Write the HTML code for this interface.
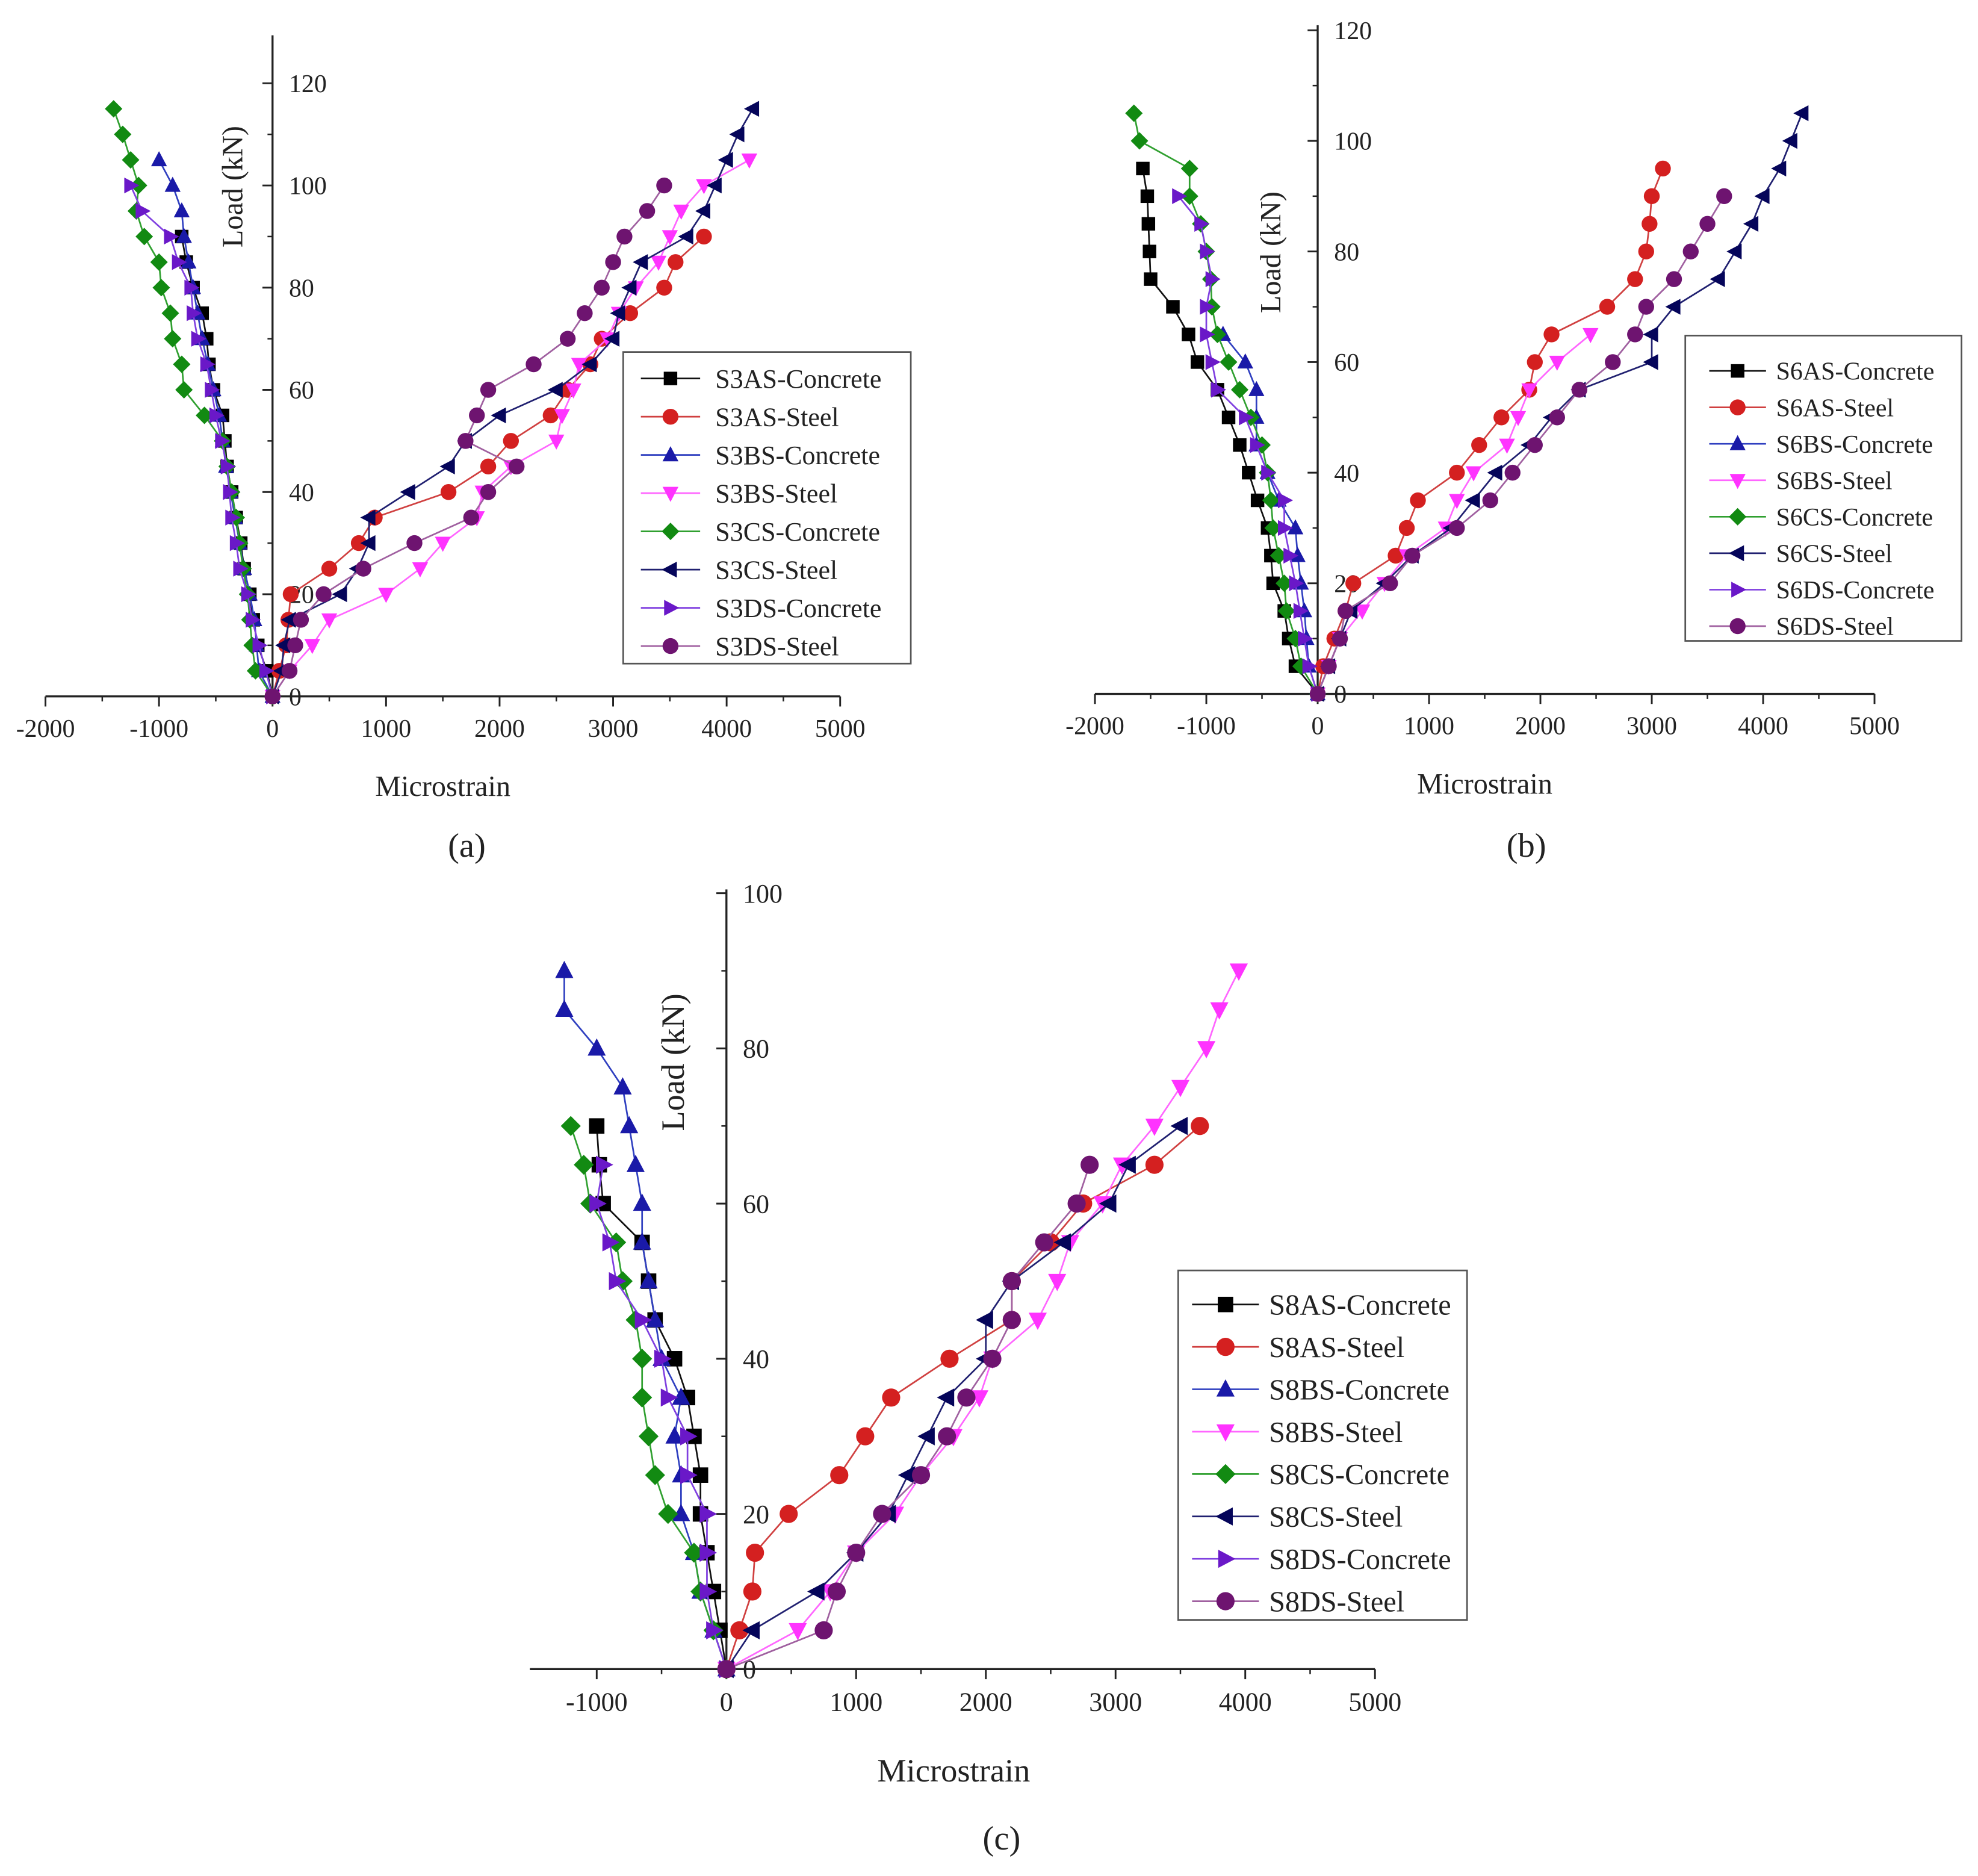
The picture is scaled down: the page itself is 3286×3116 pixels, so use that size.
<!DOCTYPE html>
<html><head><meta charset="utf-8"><style>
html,body{margin:0;padding:0;background:#fff;}
svg{display:block;}
text{font-family:"Liberation Serif",serif;fill:#222;}
</style></head><body>
<svg id="fig" width="3286" height="3116" viewBox="0 0 1568 1487" xmlns="http://www.w3.org/2000/svg">
<g id="pa"></g>
<g id="pb"></g>
<g id="pc"></g>
<text x="370" y="679" font-size="27" text-anchor="middle">(a)</text>
<text x="1210" y="679" font-size="27" text-anchor="middle">(b)</text>
<text x="794" y="1466" font-size="27" text-anchor="middle">(c)</text>
</svg>
<script>
const loads = [0,5,10,15,20,25,30,35,40,45,50,55,60,65,70,75,80,85,90,95,100,105,110,115];
const xTicks = [-2000,-1000,0,1000,2000,3000,4000,5000];
const xTicksC = [-1000,0,1000,2000,3000,4000,5000];
const yTicksA = [0,20,40,60,80,100,120];
const yTicksC = [0,20,40,60,80,100];
// panel a
const a_AS_Concrete = [0,-50,-130,-170,-200,-250,-280,-320,-360,-400,-420,-440,-520,-560,-580,-620,-700,-760,-800];
const a_AS_Steel = [0,60,120,140,160,500,760,900,1550,1900,2100,2450,2600,2800,2900,3150,3450,3550,3800];
const a_BS_Concrete = [0,-120,-140,-160,-200,-250,-290,-330,-370,-410,-440,-470,-520,-570,-620,-660,-700,-740,-780,-800,-880,-1000];
const a_BS_Steel = [0,150,350,500,1000,1300,1500,1800,1850,2100,2500,2550,2650,2700,2950,3050,3200,3400,3500,3600,3800,4200];
const a_CS_Concrete = [0,-150,-180,-200,-220,-260,-290,-320,-360,-400,-440,-600,-780,-800,-880,-900,-980,-1000,-1130,-1200,-1180,-1250,-1320,-1400];
const a_CS_Steel = [0,80,100,150,600,750,850,850,1200,1550,1700,2000,2500,2800,3000,3050,3150,3250,3650,3800,3900,4000,4100,4230];
const a_DS_Concrete = [0,-60,-120,-180,-220,-290,-320,-360,-380,-400,-450,-500,-540,-580,-660,-700,-720,-830,-900,-1150,-1250];
const a_DS_Steel = [0,150,200,250,450,800,1250,1750,1900,2150,1700,1800,1900,2300,2600,2750,2900,3000,3100,3300,3450];
// panel b
const b_AS_Concrete = [0,-200,-260,-300,-400,-420,-450,-540,-620,-700,-800,-900,-1080,-1160,-1300,-1500,-1510,-1520,-1530,-1570];
const b_AS_Steel = [0,50,150,250,320,700,800,900,1250,1450,1650,1900,1950,2100,2600,2850,2950,2980,3000,3100];
const b_BS_Concrete = [0,-80,-100,-120,-150,-180,-200,-350,-450,-550,-550,-550,-650,-850];
const b_BS_Steel = [0,100,200,400,600,800,1150,1250,1400,1700,1800,1900,2150,2450];
const b_CS_Concrete = [0,-150,-200,-280,-300,-350,-400,-420,-450,-500,-600,-700,-800,-900,-950,-960,-1000,-1050,-1150,-1150,-1600,-1650];
const b_CS_Steel = [0,100,200,300,600,850,1200,1400,1600,1900,2100,2350,3000,3000,3200,3600,3750,3900,4000,4150,4250,4350];
const b_DS_Concrete = [0,-80,-120,-160,-200,-250,-300,-300,-450,-550,-650,-900,-950,-1000,-1000,-950,-1000,-1050,-1250];
const b_DS_Steel = [0,100,200,250,650,850,1250,1550,1750,1950,2150,2350,2650,2850,2950,3200,3350,3500,3650];
// panel c
const c_AS_Concrete = [0,-50,-100,-150,-200,-200,-250,-300,-400,-550,-600,-650,-950,-980,-1000];
const c_AS_Steel = [0,100,200,220,480,870,1070,1270,1720,2200,2200,2500,2750,3300,3650];
const c_BS_Concrete = [0,-100,-200,-250,-350,-350,-400,-350,-500,-550,-600,-650,-650,-700,-750,-800,-1000,-1250,-1250];
const c_BS_Steel = [0,550,800,1000,1300,1500,1750,1950,2050,2400,2550,2650,2900,3050,3300,3500,3700,3800,3950];
const c_CS_Concrete = [0,-100,-200,-250,-450,-550,-600,-650,-650,-700,-800,-850,-1050,-1100,-1200];
const c_CS_Steel = [0,200,700,1000,1250,1400,1550,1700,2000,2000,2200,2600,2950,3100,3500];
const c_DS_Concrete = [0,-100,-150,-150,-150,-300,-300,-450,-500,-650,-850,-900,-1000,-950];
const c_DS_Steel = [0,750,850,1000,1200,1500,1700,1850,2050,2200,2200,2450,2700,2800];

const NS='http://www.w3.org/2000/svg';
function mk(parent,tag,attrs){const e=document.createElementNS(NS,tag);for(const k in attrs)e.setAttribute(k,attrs[k]);parent.appendChild(e);return e;}
const styles=[
 {c:'#111',f:'#000',m:'sq',n:'AS-Concrete'},
 {c:'#d04040',f:'#d42020',m:'ci',n:'AS-Steel'},
 {c:'#3040c0',f:'#1a1aa8',m:'up',n:'BS-Concrete'},
 {c:'#ff66ff',f:'#ff33ff',m:'dn',n:'BS-Steel'},
 {c:'#30a030',f:'#128a12',m:'di',n:'CS-Concrete'},
 {c:'#202070',f:'#05055a',m:'lt',n:'CS-Steel'},
 {c:'#8040e0',f:'#6a18c8',m:'rt',n:'DS-Concrete'},
 {c:'#a060a0',f:'#6e1470',m:'ci',n:'DS-Steel'}];
function marker(g,type,x,y,r,fill){
 let e;
 if(type==='sq')e=mk(g,'rect',{x:x-r*0.85,y:y-r*0.85,width:r*1.7,height:r*1.7,fill:fill});
 else if(type==='ci')e=mk(g,'circle',{cx:x,cy:y,r:r,fill:fill});
 else{let p;
  if(type==='up')p=[[0,-r*1.1],[r,r*0.8],[-r,r*0.8]];
  if(type==='dn')p=[[0,r*1.1],[r,-r*0.8],[-r,-r*0.8]];
  if(type==='lt')p=[[-r*1.1,0],[r*0.8,-r],[r*0.8,r]];
  if(type==='rt')p=[[r*1.1,0],[-r*0.8,-r],[-r*0.8,r]];
  if(type==='di')p=[[0,-r*1.1],[r*1.1,0],[0,r*1.1],[-r*1.1,0]];
  e=mk(g,'polygon',{points:p.map(q=>(x+q[0])+','+(y+q[1])).join(' '),fill:fill});}
 return e;}
function panel(gid,cfg){
 const g=document.getElementById(gid);
 const X=v=>cfg.x0+(v-cfg.xmin)*(cfg.x1-cfg.x0)/(cfg.xmax-cfg.xmin);
 const Y=v=>cfg.yb-v*(cfg.yb-cfg.yt)/cfg.ymax;
 const ox=X(0);
 mk(g,'line',{x1:cfg.xs,y1:cfg.yb,x2:cfg.x1,y2:cfg.yb,stroke:'#222','stroke-width':1.6});
 mk(g,'line',{x1:ox,y1:cfg.yb,x2:ox,y2:cfg.ytop,stroke:'#222','stroke-width':1.6});
 cfg.xt.forEach(v=>{mk(g,'line',{x1:X(v),y1:cfg.yb,x2:X(v),y2:cfg.yb+8,stroke:'#222','stroke-width':1.4});
  if(v<cfg.xmax)mk(g,'line',{x1:X(v+500),y1:cfg.yb,x2:X(v+500),y2:cfg.yb+4,stroke:'#222','stroke-width':1.2});
  const t=mk(g,'text',{x:X(v),y:cfg.yb+cfg.fs+12,'font-size':cfg.fs,'text-anchor':'middle'});t.textContent=v;
  });
 cfg.yt2.forEach(v=>{mk(g,'line',{x1:ox-8,y1:Y(v),x2:ox,y2:Y(v),stroke:'#222','stroke-width':1.4});
  if(Y(v+10)>=cfg.ytop)mk(g,'line',{x1:ox-4,y1:Y(v+10),x2:ox,y2:Y(v+10),stroke:'#222','stroke-width':1.2});
  const t=mk(g,'text',{x:ox+13,y:Y(v)+cfg.fs*0.35,'font-size':cfg.fs});t.textContent=v;
  });
 const xt=mk(g,'text',{x:cfg.xtx,y:cfg.xty,'font-size':cfg.tfs,'text-anchor':'middle'});xt.textContent='Microstrain';
 
 const yt=mk(g,'text',{x:0,y:0,'font-size':cfg.tfs,'text-anchor':'middle',transform:`translate(${cfg.ytx},${cfg.yty}) rotate(-90)`});yt.textContent='Load (kN)';
 
 cfg.series.forEach((s,i)=>{const st=styles[i];
  const sg=mk(g,'g',{});
  
  
  mk(sg,'polyline',{points:s.map((v,j)=>X(v)+','+Y(loads[j])).join(' '),fill:'none',stroke:st.c,'stroke-width':1.3});
  s.forEach((v,j)=>{const m=marker(sg,st.m,X(v),Y(loads[j]),cfg.mr,st.f);
   
   });});
 const L=cfg.leg;
 const lg=mk(g,'g',{});
 
 
 mk(lg,'rect',{x:L.x,y:L.y,width:L.w,height:L.h,fill:'#fff',stroke:'#555','stroke-width':1.3});
 styles.forEach((st,i)=>{const yy=L.r0+i*L.dy;
  mk(lg,'line',{x1:L.l0,y1:yy,x2:L.l1,y2:yy,stroke:st.c,'stroke-width':1.3});
  marker(lg,st.m,(L.l0+L.l1)/2,yy,cfg.mr,st.f);
  const t=mk(lg,'text',{x:L.tx,y:yy+L.fs*0.35,'font-size':L.fs});t.textContent=cfg.pre+st.n;
  });
}
panel('pa',{xmin:-2000,xmax:5000,x0:36,x1:666,xs:36,yb:552,yt:66,ymax:120,ytop:28,xt:xTicks,yt2:yTicksA,fs:20,tfs:23,
 xtx:351,xty:631,ytx:192,yty:148,mr:6.3,pre:'S3',
 series:[a_AS_Concrete,a_AS_Steel,a_BS_Concrete,a_BS_Steel,a_CS_Concrete,a_CS_Steel,a_DS_Concrete,a_DS_Steel],
 leg:{x:494,y:279,w:228,h:247,r0:300,dy:30.3,l0:508,l1:555,tx:567,fs:21}});
panel('pb',{xmin:-2000,xmax:5000,x0:868,x1:1486,xs:868,yb:550,yt:24,ymax:120,ytop:20,xt:xTicks,yt2:yTicksA,fs:20,tfs:23,
 xtx:1177,xty:629,ytx:1015,yty:200,mr:6.3,pre:'S6',
 series:[b_AS_Concrete,b_AS_Steel,b_BS_Concrete,b_BS_Steel,b_CS_Concrete,b_CS_Steel,b_DS_Concrete,b_DS_Steel],
 leg:{x:1336,y:266,w:219,h:242,r0:294,dy:28.9,l0:1355,l1:1400,tx:1408,fs:20}});
panel('pc',{xmin:-1000,xmax:5000,x0:473,x1:1090,xs:420,yb:1323,yt:708,ymax:100,ytop:705,xt:xTicksC,yt2:yTicksC,fs:21,tfs:26,
 xtx:756,xty:1412,ytx:542,yty:842,mr:7.2,pre:'S8',
 series:[c_AS_Concrete,c_AS_Steel,c_BS_Concrete,c_BS_Steel,c_CS_Concrete,c_CS_Steel,c_DS_Concrete,c_DS_Steel],
 leg:{x:934,y:1007,w:229,h:277,r0:1034,dy:33.6,l0:945,l1:998,tx:1006,fs:23}});
</script>
</body></html>
